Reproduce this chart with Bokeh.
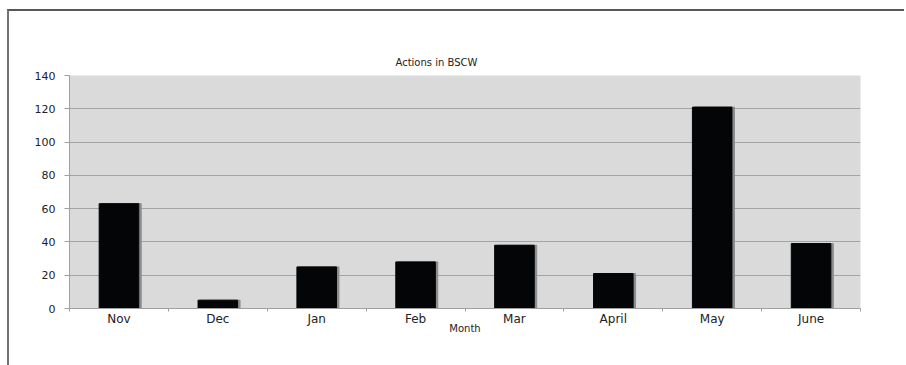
from bokeh.plotting import figure
from bokeh.models import ColumnDataSource, FixedTicker, Range1d
from bokeh.embed import file_html
from bokeh.resources import INLINE
import numpy as np

months = ["Nov", "Dec", "Jan", "Feb", "Mar", "April", "May", "June"]
actions = [63, 5, 25, 28, 38, 21, 121, 39]
y_ticks = [0, 20, 40, 60, 80, 100, 120, 140]

idx = np.arange(len(months))
src = ColumnDataSource(dict(x=idx, shadow_x=idx + 0.025, top=actions, month=months))

FONT = "DejaVu Sans"

p = figure(width=897, height=356, output_backend="svg", toolbar_location=None,
           x_range=Range1d(-0.5, len(months) - 0.5), y_range=Range1d(0, 140),
           min_border_left=60, min_border_right=46, min_border_top=64, min_border_bottom=59,
           title="Actions in BSCW")
p.margin = (9, 0, 0, 7)
p.styles = {"border-top": "2px solid #56595b", "border-left": "2px solid #6f7476"}

p.background_fill_color = "#d9dad9"
p.border_fill_color = "white"
p.outline_line_color = None

p.title.text_font = FONT
p.title.text_font_size = "10px"
p.title.text_font_style = "normal"
p.title.text_color = "#222222"
p.title.align = "left"
p.title.offset = 326
p.title.standoff = 16

p.vbar(x="shadow_x", top="top", width=0.4, source=src, color="#8c8c8c")
p.vbar(x="x", top="top", width=0.4, source=src, color="#030507")

# axes
p.xaxis.ticker = FixedTicker(ticks=list(idx), minor_ticks=list(np.arange(len(months) + 1) - 0.5))
p.xaxis.major_label_overrides = {int(i): m for i, m in zip(idx, months)}
p.xaxis.major_tick_out = 0
p.xaxis.major_tick_in = 0
p.xaxis.minor_tick_out = 3
p.xaxis.minor_tick_in = 0
p.xaxis.minor_tick_line_color = "#a0a0a0"
p.xaxis.axis_line_color = "#a0a0a0"
p.xaxis.major_label_text_font = FONT
p.xaxis.major_label_text_font_size = "12px"
p.xaxis.major_label_text_color = "#222222"
p.xaxis.major_label_standoff = 0
p.xaxis.axis_label = "Month"
p.xaxis.axis_label_text_font = FONT
p.xaxis.axis_label_text_font_size = "10px"
p.xaxis.axis_label_text_font_style = "normal"
p.xaxis.axis_label_text_color = "#222222"
p.xaxis.axis_label_standoff = -6

p.yaxis.ticker = FixedTicker(ticks=y_ticks)
p.yaxis.major_tick_out = 5
p.yaxis.major_tick_in = 0
p.yaxis.minor_tick_line_color = None
p.yaxis.major_tick_line_color = "#a0a0a0"
p.yaxis.axis_line_color = "#a0a0a0"
p.yaxis.major_label_text_font = FONT
p.yaxis.major_label_text_font_size = "11px"
p.yaxis.major_label_text_color = "#222222"
p.yaxis.major_label_standoff = 9

p.xgrid.grid_line_color = None
p.ygrid.grid_line_color = "#a3a3a3"
p.ygrid.grid_line_width = 1

open("out.html", "w").write(file_html(p, INLINE))
